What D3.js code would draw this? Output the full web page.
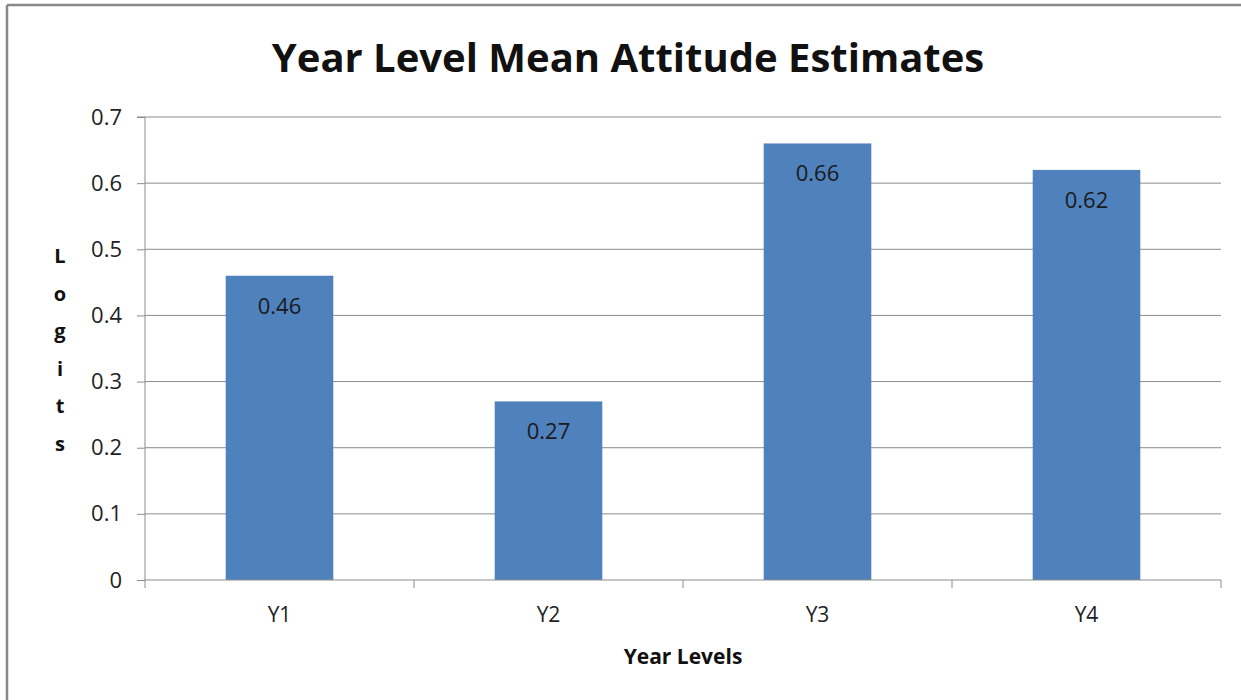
<!DOCTYPE html>
<html>
<head>
<meta charset="utf-8">
<script src="https://cdn.jsdelivr.net/npm/d3@7"></script>
<style>
  body { margin: 0; background: #fff; }
  text { font-family: "Open Sans", "DejaVu Sans", sans-serif; }
</style>
</head>
<body>
<div id="chart"></div>
<script>
const width = 1241;
const height = 700;

const categories = ['Y1', 'Y2', 'Y3', 'Y4'];
const values = [0.46, 0.27, 0.66, 0.62];
const labels = ['0.46', '0.27', '0.66', '0.62'];
const yTicks = [0, 0.1, 0.2, 0.3, 0.4, 0.5, 0.6, 0.7];

const plot = { left: 145, right: 1221, top: 117, bottom: 580 };

const svg = d3.select('#chart').append('svg')
  .attr('width', width)
  .attr('height', height);

// outer frame (only top and left edges show in the crop)
svg.append('line')
  .attr('x1', 7).attr('x2', width).attr('y1', 5).attr('y2', 5)
  .attr('stroke', '#878787').attr('stroke-width', 2.5);
svg.append('line')
  .attr('x1', 7).attr('x2', 7).attr('y1', 5).attr('y2', height)
  .attr('stroke', '#878787').attr('stroke-width', 2.5);

const x = d3.scaleBand()
  .domain(categories)
  .range([plot.left, plot.right])
  .paddingInner(0.6)
  .paddingOuter(0.3);

const y = d3.scaleLinear()
  .domain([0, 0.7])
  .range([plot.bottom, plot.top]);

// gridlines
svg.append('g')
  .selectAll('line')
  .data(yTicks.filter(d => d > 0))
  .join('line')
  .attr('x1', plot.left).attr('x2', plot.right)
  .attr('y1', d => y(d)).attr('y2', d => y(d))
  .attr('stroke', '#8c8c8c').attr('stroke-width', 1);

// bars
svg.append('g')
  .selectAll('rect')
  .data(values)
  .join('rect')
  .attr('x', (d, i) => x(categories[i]))
  .attr('y', d => y(d))
  .attr('width', x.bandwidth())
  .attr('height', d => y(0) - y(d))
  .attr('fill', '#4f81bd');

// data labels
svg.append('g')
  .selectAll('text')
  .data(values)
  .join('text')
  .attr('x', (d, i) => x(categories[i]) + x.bandwidth() / 2)
  .attr('y', d => y(d) + 38)
  .attr('text-anchor', 'middle')
  .attr('font-size', 22)
  .attr('fill', '#1a1a1a')
  .text((d, i) => labels[i]);

// y axis
const yAxis = svg.append('g')
  .attr('transform', `translate(${plot.left},0)`)
  .call(d3.axisLeft(y).tickValues(yTicks).tickSize(8).tickPadding(15)
    .tickFormat(d => d === 0 ? '0' : d3.format('.1f')(d)));
yAxis.select('.domain').attr('stroke', '#8c8c8c').attr('d', `M-8,${plot.top}H0V${plot.bottom}`);
yAxis.selectAll('.tick line').attr('stroke', '#8c8c8c');
yAxis.selectAll('.tick text').attr('font-size', 22).attr('fill', '#222')
  .attr('font-family', '"Open Sans", sans-serif');

// x axis
const xAxis = svg.append('g')
  .attr('transform', `translate(0,${plot.bottom})`);
xAxis.append('line')
  .attr('x1', plot.left).attr('x2', plot.right)
  .attr('stroke', '#8c8c8c');
const bounds = d3.range(categories.length + 1).map(i => plot.left + i * (plot.right - plot.left) / categories.length);
xAxis.selectAll('.xtick')
  .data(bounds)
  .join('line')
  .attr('class', 'xtick')
  .attr('x1', d => d).attr('x2', d => d)
  .attr('y1', 0).attr('y2', 8)
  .attr('stroke', '#8c8c8c');
xAxis.selectAll('.xlabel')
  .data(categories)
  .join('text')
  .attr('class', 'xlabel')
  .attr('x', d => x(d) + x.bandwidth() / 2)
  .attr('y', 42)
  .attr('text-anchor', 'middle')
  .attr('font-size', 21)
  .attr('fill', '#222')
  .text(d => d);

// title
svg.append('text')
  .attr('x', 628)
  .attr('y', 72)
  .attr('text-anchor', 'middle')
  .attr('font-size', 40)
  .attr('font-weight', 'bold')
  .attr('fill', '#111')
  .text('Year Level Mean Attitude Estimates');

// x axis title
svg.append('text')
  .attr('x', 683)
  .attr('y', 664)
  .attr('text-anchor', 'middle')
  .attr('font-size', 21)
  .attr('font-weight', 'bold')
  .attr('fill', '#111')
  .text('Year Levels');

// y axis title, letters stacked
const yTitle = 'Logits'.split('');
svg.append('g')
  .selectAll('text')
  .data(yTitle)
  .join('text')
  .attr('x', 60)
  .attr('y', (d, i) => 263 + i * 37.5)
  .attr('text-anchor', 'middle')
  .attr('font-size', 20)
  .attr('font-weight', 'bold')
  .attr('fill', '#111')
  .text(d => d);
</script>
</body>
</html>
